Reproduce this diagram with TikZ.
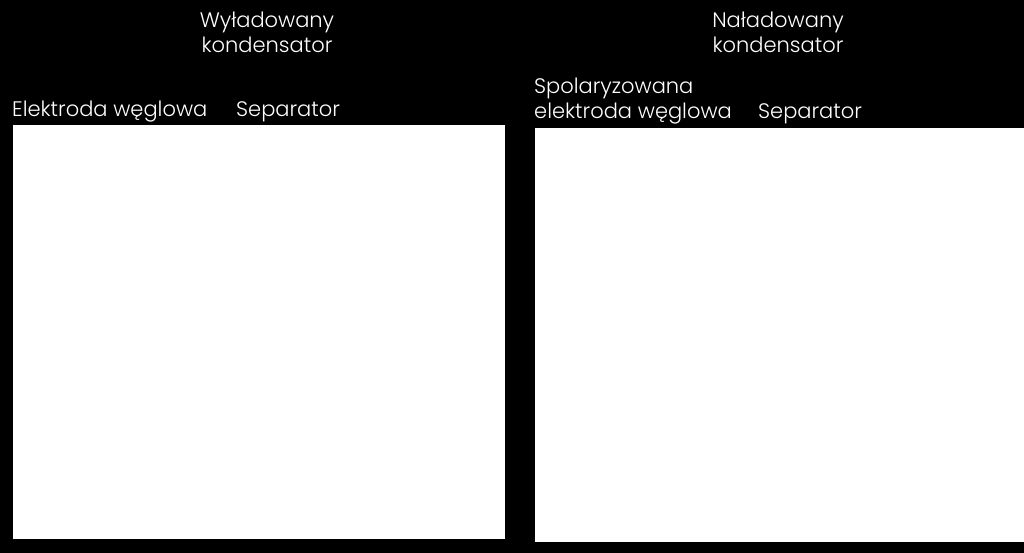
\documentclass[tikz,border=0pt]{standalone}
\usepackage{fontspec}
\setmainfont{Poppins}[UprightFont=* Light]
\usepackage{tikz}

\begin{document}
\begin{tikzpicture}[x=1pt, y=-1pt,
		lbl/.style={text=white, inner sep=0pt, font=\fontsize{21}{25.5}\selectfont},
		box/.style={fill=white, draw=white}]
		\fill[black] (0,0) rectangle (1024,553);
		\useasboundingbox (0,0) rectangle (1024,553);
		% uncharged
		\node[lbl, align=center, anchor=base] (titleL) at (267,53) {Wyładowany\\kondensator};
		\node[lbl, anchor=base west] (elecL) at (12,117) {Elektroda węglowa};
		\node[lbl, anchor=base west] (sepL) at (236,117) {Separator};
		\fill[box] (13,125) rectangle (504,538);
		% charged
		\node[lbl, align=center, anchor=base] (titleR) at (778,53) {Naładowany\\kondensator};
		\node[lbl, align=left, anchor=base west] (elecR) at (534,119) {Spolaryzowana\\elektroda węglowa};
		\node[lbl, anchor=base west] (sepR) at (758,119) {Separator};
		\fill[box] (535,128) rectangle (1024,541);
	\end{tikzpicture}
\end{document}
